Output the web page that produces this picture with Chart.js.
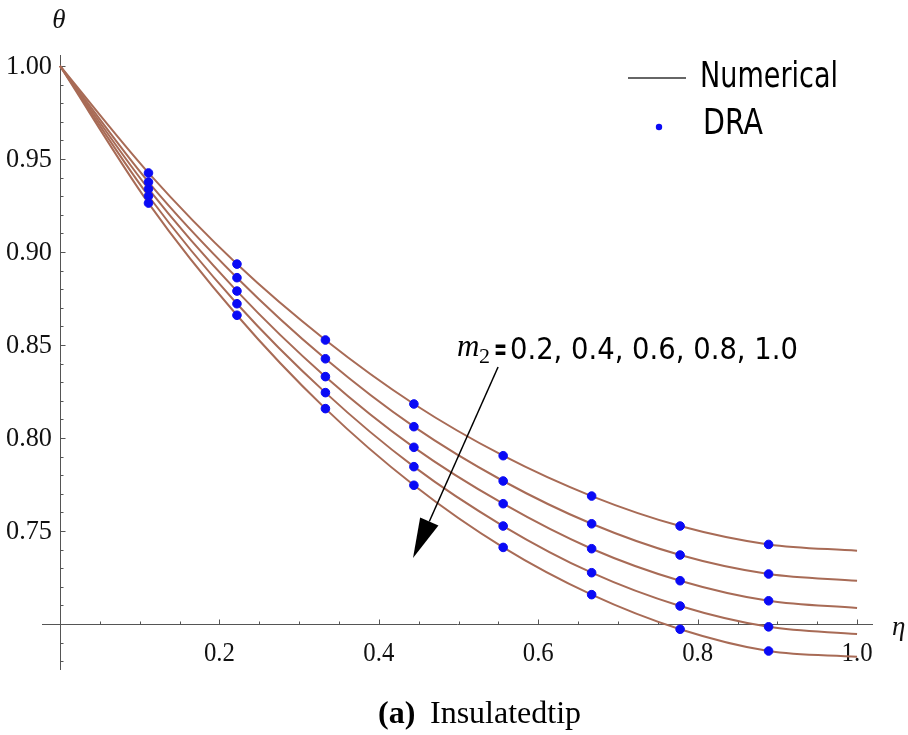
<!DOCTYPE html>
<html>
<head>
<meta charset="utf-8">
<title>Insulated tip</title>
<script src="https://cdn.jsdelivr.net/npm/chart.js@4.4.1/dist/chart.umd.min.js"></script>
<style>
  html, body { margin: 0; padding: 0; background: #fff; }
  #wrap { width: 908px; height: 735px; position: relative; }
</style>
</head>
<body>
<div id="wrap"><canvas id="chart"></canvas></div>
<script>
// m2 values, one curve each
const m2Values = [0.2, 0.4, 0.6, 0.8, 1.0];

// eta positions of the numerical curves
const etaNumerical = [0, 0.111, 0.222, 0.333, 0.444, 0.556, 0.667, 0.778, 0.889, 1.0];
const thetaNum02 = [1.000, 0.9425, 0.8935, 0.8527, 0.8183, 0.7905, 0.7688, 0.7527, 0.7428, 0.7394];
const thetaNum04 = [1.000, 0.9376, 0.8862, 0.8426, 0.8061, 0.7769, 0.7539, 0.7371, 0.7269, 0.7233];
const thetaNum06 = [1.000, 0.9339, 0.8790, 0.8330, 0.7950, 0.7647, 0.7405, 0.7233, 0.7125, 0.7086];
const thetaNum08 = [1.000, 0.9301, 0.8722, 0.8244, 0.7846, 0.7527, 0.7276, 0.7097, 0.6985, 0.6946];
const thetaNum10 = [1.000, 0.9263, 0.8660, 0.8158, 0.7746, 0.7412, 0.7158, 0.6972, 0.6855, 0.6824];

// DRA points
const etaDRA = [0.111, 0.222, 0.333, 0.444, 0.556, 0.667, 0.778, 0.889];
const thetaDRA02 = [0.9425, 0.8935, 0.8527, 0.8183, 0.7905, 0.7688, 0.7527, 0.7428];
const thetaDRA04 = [0.9376, 0.8862, 0.8426, 0.8061, 0.7769, 0.7539, 0.7371, 0.7269];
const thetaDRA06 = [0.9339, 0.8790, 0.8330, 0.7950, 0.7647, 0.7405, 0.7233, 0.7125];
const thetaDRA08 = [0.9301, 0.8722, 0.8244, 0.7846, 0.7527, 0.7276, 0.7097, 0.6985];
const thetaDRA10 = [0.9263, 0.8660, 0.8158, 0.7746, 0.7412, 0.7158, 0.6972, 0.6855];

// tick labels
const xTickValues = [0.2, 0.4, 0.6, 0.8, 1.0];
const xTickLabels = ['0.2', '0.4', '0.6', '0.8', '1.0'];
const yTickValues = [0.75, 0.80, 0.85, 0.90, 0.95, 1.00];
const yTickLabels = ['0.75', '0.80', '0.85', '0.90', '0.95', '1.00'];

const numericalSets = [thetaNum02, thetaNum04, thetaNum06, thetaNum08, thetaNum10];
const draSets = [thetaDRA02, thetaDRA04, thetaDRA06, thetaDRA08, thetaDRA10];

const lineColor = '#a86b56';
const dotColor = '#0a0af5';

function toPoints(xs, ys) {
    return xs.map((x, i) => ({ x: x, y: ys[i] }));
}

const datasets = [];
numericalSets.forEach((ys, i) => {
    datasets.push({
        label: 'Numerical m2=' + m2Values[i],
        data: toPoints(etaNumerical, ys),
        order: 2, // drawn underneath the dots
        showLine: true,
        borderColor: lineColor,
        borderWidth: 2,
        pointRadius: 0,
        cubicInterpolationMode: 'monotone',
        fill: false
    });
});
draSets.forEach((ys, i) => {
    datasets.push({
        label: 'DRA m2=' + m2Values[i],
        data: toPoints(etaDRA, ys),
        order: 1,
        showLine: false,
        borderColor: dotColor,
        backgroundColor: dotColor,
        pointRadius: 4.3,
        pointBackgroundColor: dotColor,
        pointBorderColor: dotColor,
        pointBorderWidth: 1
    });
});

// Mathematica-style axes crossing at (0, 0.70), plus labels and legend
const axesPlugin = {
    id: 'crossAxes',
    beforeDatasetsDraw(chart) {
        const { ctx, chartArea, scales: { x, y } } = chart;
        const x0 = Math.round(x.getPixelForValue(0)) + 0.5;
        const y0 = Math.round(y.getPixelForValue(0.70)) + 0.5;
        ctx.save();
        ctx.strokeStyle = '#555';
        ctx.lineWidth = 1;
        ctx.beginPath();
        ctx.moveTo(chartArea.left, y0);
        ctx.lineTo(chartArea.right, y0);
        ctx.moveTo(x0, chartArea.top);
        ctx.lineTo(x0, chartArea.bottom);
        ctx.stroke();

        // x ticks every 0.05, longer on the labelled ones
        ctx.beginPath();
        for (let k = 1; k <= 20; k++) {
            const v = k * 0.05;
            const px = Math.round(x.getPixelForValue(v)) + 0.5;
            const len = (k % 4 === 0) ? 5 : 3;
            ctx.moveTo(px, y0);
            ctx.lineTo(px, y0 - len);
        }
        // y ticks every 0.01
        for (let k = 68; k <= 100; k++) {
            if (k === 70) continue;
            const v = k / 100;
            const py = Math.round(y.getPixelForValue(v)) + 0.5;
            const len = (k % 5 === 0) ? 5 : 3;
            ctx.moveTo(x0, py);
            ctx.lineTo(x0 + len, py);
        }
        ctx.stroke();

        // tick labels
        ctx.fillStyle = '#111';
        ctx.font = '27px "Liberation Serif", "Times New Roman", serif';
        ctx.textAlign = 'right';
        ctx.textBaseline = 'middle';
        yTickValues.forEach((v, i) => {
            ctx.fillText(yTickLabels[i], 52, y.getPixelForValue(v) + 1, 46);
        });
        ctx.textAlign = 'center';
        ctx.textBaseline = 'alphabetic';
        xTickValues.forEach((v, i) => {
            ctx.fillText(xTickLabels[i], x.getPixelForValue(v), y0 + 36, 31);
        });

        // axis titles
        ctx.font = 'italic 27px "Liberation Serif", "Times New Roman", serif';
        ctx.textAlign = 'center';
        ctx.fillText('θ', 59, 28);
        ctx.textAlign = 'left';
        ctx.fillText('η', 892, y0 + 10);
        ctx.restore();
    },
    afterDraw(chart) {
        const { ctx, scales: { x, y } } = chart;
        ctx.save();

        // legend
        ctx.strokeStyle = '#333';
        ctx.lineWidth = 1.6;
        ctx.beginPath();
        ctx.moveTo(628, 78);
        ctx.lineTo(686, 78);
        ctx.stroke();
        ctx.fillStyle = dotColor;
        ctx.beginPath();
        ctx.arc(659, 127, 3.2, 0, Math.PI * 2);
        ctx.fill();
        ctx.fillStyle = '#000';
        ctx.font = '35px "DejaVu Sans", sans-serif';
        ctx.textAlign = 'left';
        ctx.textBaseline = 'alphabetic';
        ctx.fillText('Numerical', 700, 87, 138);
        ctx.fillText('DRA', 703, 134, 60);

        // m2 annotation
        const ax = x.getPixelForValue(0.498);
        const ay = y.getPixelForValue(0.8425);
        ctx.font = 'italic 31px "Liberation Serif", "Times New Roman", serif';
        ctx.fillText('m', ax, ay - 3);
        ctx.font = '22px "Liberation Serif", "Times New Roman", serif';
        ctx.fillText('2', ax + 22, ay + 4);
        ctx.font = 'bold 30px "DejaVu Sans", sans-serif';
        ctx.fillText('=', ax + 37, ay, 13);
        ctx.font = '30px "DejaVu Sans", sans-serif';
        ctx.fillText('0.2, 0.4, 0.6, 0.8, 1.0', ax + 53, ay, 288);

        // arrow
        const sx = x.getPixelForValue(0.5496), sy = y.getPixelForValue(0.8382);
        const tx = x.getPixelForValue(0.4429), ty = y.getPixelForValue(0.7355);
        const ang = Math.atan2(ty - sy, tx - sx);
        const headLen = 40, headW = 10;
        const bx = tx - headLen * Math.cos(ang), by = ty - headLen * Math.sin(ang);
        ctx.strokeStyle = '#000';
        ctx.lineWidth = 1.5;
        ctx.beginPath();
        ctx.moveTo(sx, sy);
        ctx.lineTo(bx, by);
        ctx.stroke();
        ctx.fillStyle = '#000';
        ctx.beginPath();
        ctx.moveTo(tx, ty);
        ctx.lineTo(bx + headW * Math.sin(ang), by - headW * Math.cos(ang));
        ctx.lineTo(bx - headW * Math.sin(ang), by + headW * Math.cos(ang));
        ctx.closePath();
        ctx.fill();

        // caption
        ctx.fillStyle = '#000';
        ctx.font = 'bold 32px "Liberation Serif", "Times New Roman", serif';
        ctx.fillText('(a)', 378, 723);
        ctx.font = '32px "Liberation Serif", "Times New Roman", serif';
        ctx.fillText('Insulatedtip', 430, 723);
        ctx.restore();
    }
};

const ctx = document.getElementById('chart').getContext('2d');
const chart = new Chart(ctx, {
    type: 'scatter',
    data: { datasets: datasets },
    options: {
        responsive: true,
        maintainAspectRatio: false,
        animation: false,
        layout: { padding: { left: 42, right: 35, top: 55, bottom: 65 } },
        plugins: {
            legend: { display: false },
            tooltip: { enabled: false }
        },
        scales: {
            x: { type: 'linear', min: -0.0226, max: 1.020, display: false },
            y: { type: 'linear', min: 0.6753, max: 1.0059, display: false }
        }
    },
    plugins: [axesPlugin]
});
</script>
</body>
</html>
